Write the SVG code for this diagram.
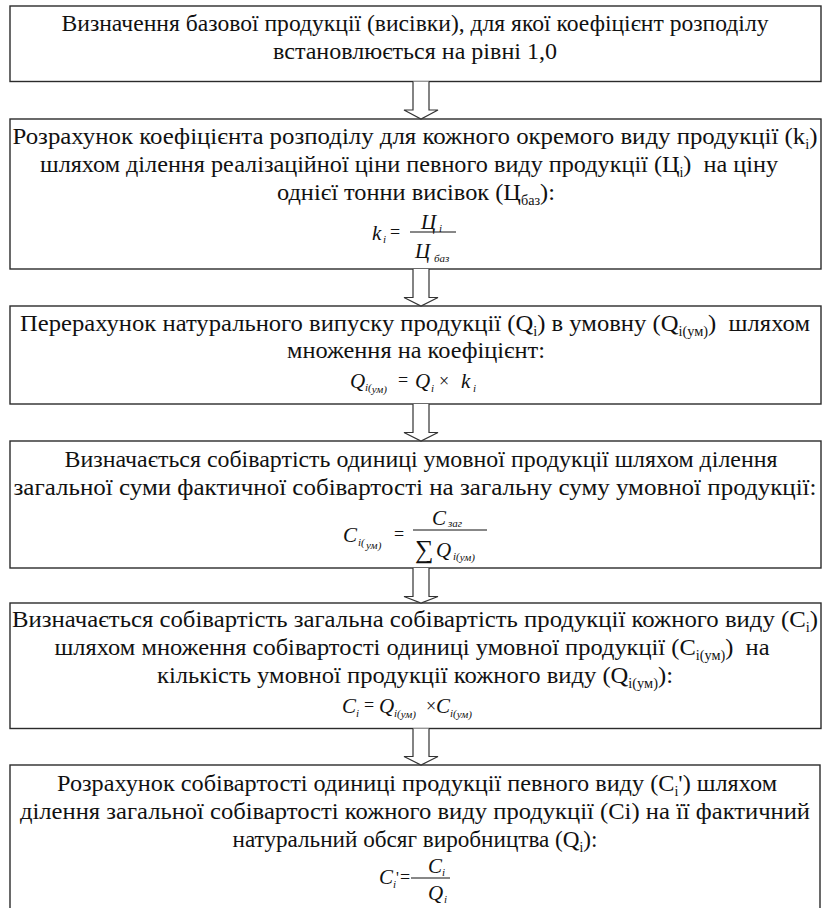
<svg xmlns="http://www.w3.org/2000/svg" width="824" height="908" viewBox="0 0 824 908">
<style>
.box{fill:#fff;stroke:#2b2b2b;stroke-width:1.4}
.arr{fill:#fff;stroke:#333;stroke-width:1.2}
text{fill:#111;font-family:'Liberation Serif','Times New Roman',serif}
.t{font-size:24px;text-anchor:middle}
.sb{font-size:14px}
.f{font-style:italic;font-size:21px}
.fs{font-style:italic;font-size:11px}
.fn{font-size:18px}
.fl{stroke:#111;stroke-width:1}
</style>
<g id="node1">
<rect class="box" x="10" y="6" width="811" height="75.5"/>
<text class="t" x="415" y="31" textLength="707" lengthAdjust="spacingAndGlyphs">Визначення базової продукції (висівки), для якої коефіцієнт розподілу</text>
<text class="t" x="415" y="59" textLength="284" lengthAdjust="spacingAndGlyphs">встановлюється на рівні 1,0</text>
</g>
<g id="node2">
<rect class="box" x="10" y="119" width="811" height="150"/>
<text class="t" x="415" y="144" textLength="805" lengthAdjust="spacingAndGlyphs">Розрахунок коефіцієнта розподілу для кожного окремого виду продукції (k<tspan class="sb" dy="5">i</tspan><tspan dy="-5">)</tspan></text>
<text class="t" x="409" y="172" textLength="738" lengthAdjust="spacingAndGlyphs" xml:space="preserve">шляхом ділення реалізаційної ціни певного виду продукції (Ц<tspan class="sb" dy="5">i</tspan><tspan dy="-5">)  на ціну</tspan></text>
<text class="t" x="416" y="200" textLength="278" lengthAdjust="spacingAndGlyphs">однієї тонни висівок (Ц<tspan class="sb" dy="5">баз</tspan><tspan dy="-5">):</tspan></text>
<text class="f" x="372" y="240">k</text><text class="fs" x="383" y="243">i</text>
<text class="fn" x="390" y="238">=</text>
<line class="fl" x1="410" y1="232" x2="456" y2="232"/>
<text class="f" x="421" y="229">Ц</text><text class="fs" x="439" y="232">i</text>
<text class="f" x="415" y="258">Ц</text><text class="fs" x="434" y="262">баз</text>
</g>
<g id="node3">
<rect class="box" x="10" y="306" width="811" height="98"/>
<text class="t" x="415" y="331" textLength="790" lengthAdjust="spacingAndGlyphs" xml:space="preserve">Перерахунок натурального випуску продукції (Q<tspan class="sb" dy="5">i</tspan><tspan dy="-5">) в умовну (Q</tspan><tspan class="sb" dy="5">i(ум)</tspan><tspan dy="-5">)  шляхом</tspan></text>
<text class="t" x="416" y="358" textLength="258" lengthAdjust="spacingAndGlyphs">множення на коефіцієнт:</text>
<text class="f" x="350" y="388">Q</text><text class="fs" x="365" y="391">i(<tspan dy="2">ум)</tspan></text>
<text class="fn" x="398" y="386">=</text>
<text class="f" x="415" y="388">Q</text><text class="fs" x="431" y="392">i</text>
<text class="fn" x="439" y="387">×</text>
<text class="f" x="461" y="388">k</text><text class="fs" x="473" y="392">i</text>
</g>
<g id="node4">
<rect class="box" x="10" y="441" width="811" height="127"/>
<text class="t" x="421" y="467" textLength="713" lengthAdjust="spacingAndGlyphs">Визначається собівартість одиниці умовної продукції шляхом ділення</text>
<text class="t" x="415" y="495" textLength="803" lengthAdjust="spacingAndGlyphs">загальної суми фактичної собівартості на загальну суму умовної продукції:</text>
<text class="f" x="343" y="542">C</text><text class="fs" x="358" y="546">i(</text><text class="fs" x="366" y="549">ум)</text>
<text class="fn" x="394" y="540">=</text>
<line class="fl" x1="413" y1="530" x2="487" y2="530"/>
<text class="f" x="432" y="525">C</text><text class="fs" x="448" y="527">заг</text>
<text class="fn" x="415" y="558" style="font-size:26px">∑</text>
<text class="f" x="436" y="557">Q</text><text class="fs" x="453" y="560">i(<tspan dy="1">ум)</tspan></text>
</g>
<g id="node5">
<rect class="box" x="10" y="603" width="811" height="125.5"/>
<text class="t" x="415" y="627" textLength="806" lengthAdjust="spacingAndGlyphs">Визначається собівартість загальна собівартість продукції кожного виду (C<tspan class="sb" dy="5">i</tspan><tspan dy="-5">)</tspan></text>
<text class="t" x="412" y="655" textLength="715" lengthAdjust="spacingAndGlyphs" xml:space="preserve">шляхом множення собівартості одиниці умовної продукції (C<tspan class="sb" dy="5">i(ум)</tspan><tspan dy="-5">)  на</tspan></text>
<text class="t" x="415" y="683" textLength="516" lengthAdjust="spacingAndGlyphs">кількість умовної продукції кожного виду (Q<tspan class="sb" dy="5">i(ум)</tspan><tspan dy="-5">):</tspan></text>
<text class="f" x="342" y="713">C</text><text class="fs" x="356" y="717">i</text>
<text class="fn" x="364" y="711">=</text>
<text class="f" x="379" y="713">Q</text><text class="fs" x="394" y="717">i(<tspan dy="1">ум)</tspan></text>
<text class="fn" x="426" y="712">×</text>
<text class="f" x="436" y="713">C</text><text class="fs" x="450" y="717">i(<tspan dy="1">ум)</tspan></text>
</g>
<g id="node6">
<rect class="box" x="10" y="765" width="810" height="170"/>
<text class="t" x="417" y="791" textLength="720" lengthAdjust="spacingAndGlyphs">Розрахунок собівартості одиниці продукції певного виду (C<tspan class="sb" dy="5">i</tspan><tspan dy="-5">') шляхом</tspan></text>
<text class="t" x="415" y="819" textLength="790" lengthAdjust="spacingAndGlyphs">ділення загальної собівартості кожного виду продукції (Ci) на її фактичний</text>
<text class="t" x="415" y="847" textLength="365" lengthAdjust="spacingAndGlyphs">натуральний обсяг виробництва (Q<tspan class="sb" dy="5">i</tspan><tspan dy="-5">):</tspan></text>
<text class="f" x="379" y="884">C</text><text class="fs" x="393" y="888">i</text><text class="fn" x="396" y="883" style="font-size:16px">'</text>
<text class="fn" x="400" y="883">=</text>
<line class="fl" x1="411" y1="878" x2="450" y2="878"/>
<text class="f" x="428" y="873">C</text><text class="fs" x="442" y="876">i</text>
<text class="f" x="428" y="900">Q</text><text class="fs" x="444" y="903">i</text>
</g>
<g id="connectors">
<path class="arr" d="M413,81.5 V110 H404 L421,119 L438,110 H429 V81.5"/>
<path class="arr" d="M413,269 V297.5 H404 L421,306 L438,297.5 H429 V269"/>
<path class="arr" d="M413,404 V432.5 H404 L421,441 L438,432.5 H429 V404"/>
<path class="arr" d="M413,568 V596.5 H404 L421,603 L438,596.5 H429 V568"/>
<path class="arr" d="M413,728.5 V756.5 H404 L421,765 L438,756.5 H429 V728.5"/>
</g>
</svg>
